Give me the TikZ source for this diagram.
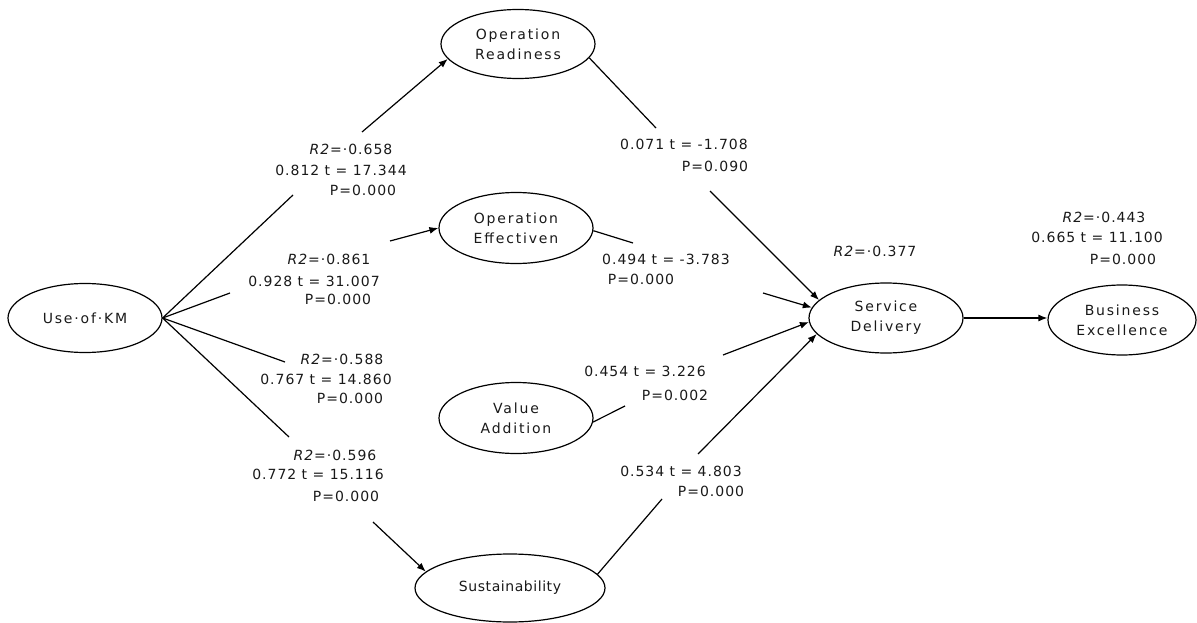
\documentclass[tikz,border=0pt]{standalone}
\usepackage{fontspec}
\setmainfont{DejaVu Sans}
\newfontfamily\lblfont[LetterSpace=7]{DejaVu Sans}
\newfontfamily\elfont[LetterSpace=13]{DejaVu Sans}
\newfontfamily\sustfont[LetterSpace=4]{DejaVu Sans}
\usetikzlibrary{shapes.geometric,arrows.meta}
\begin{document}
\begin{tikzpicture}[x=1pt,y=-1pt,
  latent/.style={ellipse,draw,line width=1.2pt,minimum width=154pt,minimum height=69pt,inner sep=0pt,align=center,text=black!90,font=\elfont\fontsize{14}{20}\selectfont},
  lbl/.style={inner sep=0pt,text=black!90,font=\lblfont\fontsize{14}{20}\selectfont},
  link/.style={line width=1.2pt},
  arr/.style={line width=1.2pt,-{Latex[length=9pt,width=7pt]}}]
\useasboundingbox (0,0) rectangle (1197,623);

% latent variables
\node[latent] (km) at (85,318) {Use·of·KM};
\node[latent] (or) at (518,44) {Operation\\Readiness};
\node[latent,minimum height=71pt] (oe) at (516,228) {Operation\\Effectiven};
\node[latent,minimum height=71pt] (va) at (516,418) {Value\\Addition};
\node[latent,minimum width=190pt,minimum height=68pt,font=\sustfont\fontsize{14}{20}\selectfont] (su) at (510,588) {Sustainability};
\node[latent,minimum height=70pt] (sd) at (886,318) {Service\\Delivery};
\node[latent,minimum width=148pt,minimum height=70pt] (be) at (1122,320) {Business\\Excellence};

% break points of the connectors
\coordinate (p1a) at (293,195); \coordinate (p1b) at (362,132);
\coordinate (p2a) at (230,293); \coordinate (p2b) at (390,241);
\coordinate (p3a) at (285,362);
\coordinate (p4a) at (289,437); \coordinate (p4b) at (373,522);
\coordinate (p5a) at (656,128); \coordinate (p5b) at (710,191);
\coordinate (p6a) at (633,243); \coordinate (p6b) at (763,293);
\coordinate (p7a) at (625,406); \coordinate (p7b) at (723,355);
\coordinate (p8a) at (662,499); \coordinate (p8b) at (698,454);

% connectors
\draw[link] (km.east) -- (p1a);
\draw[arr] (p1b) -- (or.192);
\draw[link] (km.east) -- (p2a);
\draw[arr] (p2b) -- (oe.180);
\draw[link] (km.east) -- (p3a);
\draw[link] (km.east) -- (p4a);
\draw[arr] (p4b) -- (su.169);
\draw[link] (or.-11) -- (p5a);
\draw[arr] (p5b) -- (sd.165);
\draw[link] (oe.-2) -- (p6a);
\draw[arr] (p6b) -- (sd.172);
\draw[link] (va.-3) -- (p7a);
\draw[arr] (p7b) -- (sd.183);
\draw[link] (su.9) -- (p8a);
\draw[arr] (p8b) -- (sd.193);
\draw[arr] (sd.east) -- (sd.east -| be.west);

% labels
\node[lbl] (l1a) at (351,149) {\textit{R2}=·0.658};
\node[lbl] (l1b) at (341,170) {0.812 t = 17.344};
\node[lbl] (l1c) at (363,190) {P=0.000};
\node[lbl] (l2a) at (329,259) {\textit{R2}=·0.861};
\node[lbl] (l2b) at (314,281) {0.928 t = 31.007};
\node[lbl] (l2c) at (338,299) {P=0.000};
\node[lbl] (l3a) at (342,359) {\textit{R2}=·0.588};
\node[lbl] (l3b) at (326,379) {0.767 t = 14.860};
\node[lbl] (l3c) at (350,398) {P=0.000};
\node[lbl] (l4a) at (335,455) {\textit{R2}=·0.596};
\node[lbl] (l4b) at (318,474) {0.772 t = 15.116};
\node[lbl] (l4c) at (346,496) {P=0.000};
\node[lbl] (l5a) at (684,144) {0.071 t = -1.708};
\node[lbl] (l5b) at (715,166) {P=0.090};
\node[lbl] (l6a) at (666,259) {0.494 t = -3.783};
\node[lbl] (l6b) at (641,279) {P=0.000};
\node[lbl] (l7a) at (645,371) {0.454 t = 3.226};
\node[lbl] (l7b) at (675,395) {P=0.002};
\node[lbl] (l8a) at (681,471) {0.534 t = 4.803};
\node[lbl] (l8b) at (711,491) {P=0.000};
\node[lbl] (lsd) at (875,251) {\textit{R2}=·0.377};
\node[lbl] (l9a) at (1104,217) {\textit{R2}=·0.443};
\node[lbl] (l9b) at (1097,237) {0.665 t = 11.100};
\node[lbl] (l9c) at (1123,259) {P=0.000};
\end{tikzpicture}
\end{document}
